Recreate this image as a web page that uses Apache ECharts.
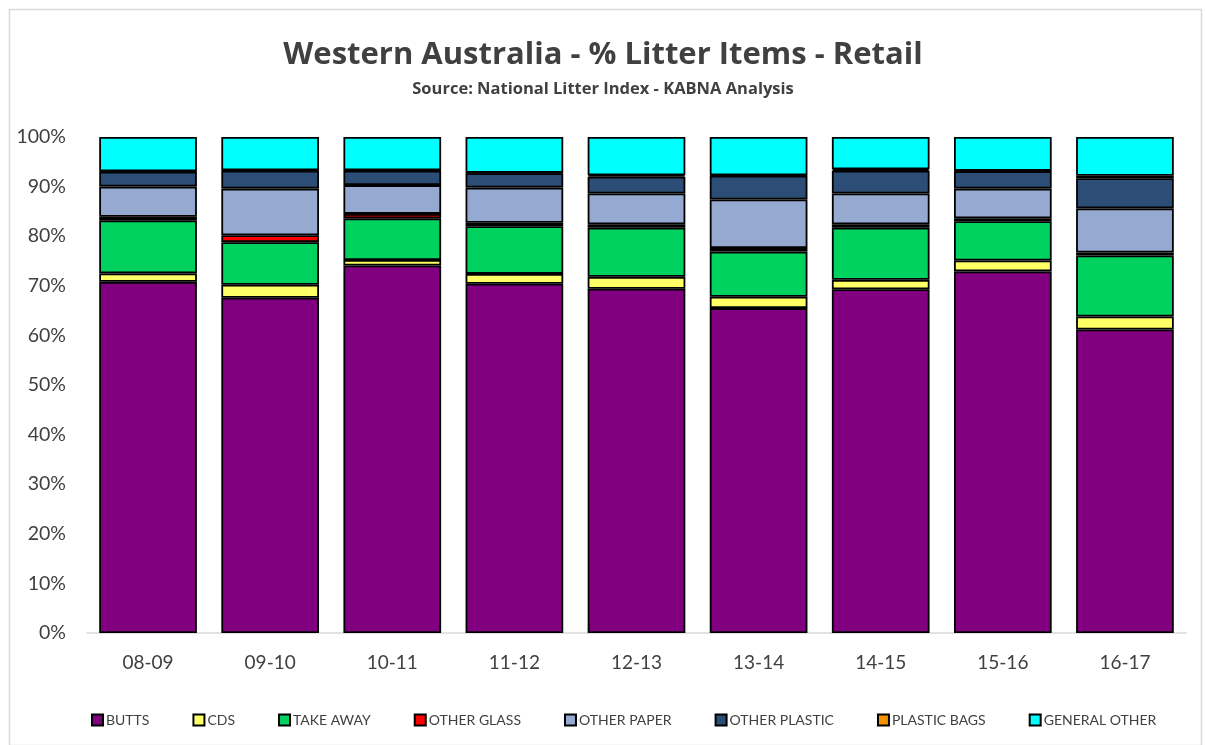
<!DOCTYPE html>
<html>
<head>
<meta charset="utf-8">
<script src="https://cdn.jsdelivr.net/npm/echarts@6/dist/echarts.min.js"></script>
<style>
html,body{margin:0;padding:0;background:#fff;}
#chart{width:1206px;height:745px;}
</style>
</head>
<body>
<div id="chart"></div>
<script>
const categories = ['08-09','09-10','10-11','11-12','12-13','13-14','14-15','15-16','16-17'];
const butts        = [70.8, 67.6, 74.1, 70.4, 69.4, 65.5, 69.3, 72.9, 61.2];
const cds          = [1.7, 2.6, 1.1, 2.0, 2.4, 2.3, 1.9, 2.2, 2.6];
const takeAway     = [10.7, 8.6, 8.4, 9.6, 9.9, 9.1, 10.5, 7.9, 12.3];
const otherGlass   = [0.7, 1.4, 0.9, 0.7, 0.7, 0.7, 0.7, 0.6, 0.6];
const otherPaper   = [6.1, 9.4, 5.8, 7.1, 6.2, 9.8, 6.2, 6.0, 8.9];
const otherPlastic = [3.0, 3.6, 2.9, 2.9, 3.4, 4.8, 4.6, 3.5, 6.1];
const plasticBags  = [0.1, 0.1, 0.1, 0.1, 0.3, 0.1, 0.3, 0.1, 0.5];
const generalOther = [6.9, 6.7, 6.7, 7.2, 7.7, 7.7, 6.5, 6.8, 7.8];
const yTicks = [0,10,20,30,40,50,60,70,80,90,100];

const seriesDefs = [
  ['BUTTS', butts, '#800080'],
  ['CDS', cds, '#FFFF66'],
  ['TAKE AWAY', takeAway, '#00D25F'],
  ['OTHER GLASS', otherGlass, '#FF0000'],
  ['OTHER PAPER', otherPaper, '#95A9D1'],
  ['OTHER PLASTIC', otherPlastic, '#2C4D75'],
  ['PLASTIC BAGS', plasticBags, '#F79100'],
  ['GENERAL OTHER', generalOther, '#00FFFF']
];

const chart = echarts.init(document.getElementById('chart'));
const font = 'Lato, "Open Sans", sans-serif';
const titleFont = '"Open Sans", Lato, sans-serif';
chart.setOption({
  animation: false,
  textStyle: {fontFamily: font},
  title: {
    text: 'Western Australia - % Litter Items - Retail',
    subtext: 'Source: National Litter Index - KABNA Analysis',
    left: 'center',
    top: 35,
    itemGap: 10,
    textStyle: {fontSize: 31, fontWeight: 'bold', color: '#404040', fontFamily: titleFont},
    subtextStyle: {fontSize: 16.5, fontWeight: 'bold', color: '#404040', fontFamily: titleFont}
  },
  legend: {
    bottom: 13,
    left: 86,
    itemWidth: 11,
    itemHeight: 11,
    itemGap: 43,
    icon: 'rect',
    textStyle: {fontSize: 14, color: '#404040', fontFamily: font, padding: [0,0,0,-2]},
    data: seriesDefs.map(s => s[0])
  },
  grid: {left: 87, right: 20, top: 137, bottom: 112, containLabel: false},
  xAxis: {
    type: 'category',
    data: categories,
    axisLine: {lineStyle: {color: '#D9D9D9', width: 1.5}},
    axisTick: {show: false},
    axisLabel: {fontSize: 19, color: '#404040', margin: 20, fontFamily: font}
  },
  yAxis: {
    type: 'value',
    min: 0, max: 100, interval: 10,
    axisLine: {show: false},
    axisTick: {show: false},
    splitLine: {show: false},
    axisLabel: {fontSize: 19.5, color: '#404040', margin: 21, fontFamily: font,
      formatter: v => yTicks.includes(v) ? v + '%' : ''}
  },
  graphic: [{
    type: 'rect', left: 7, top: 7,
    shape: {width: 1192, height: 736},
    style: {fill: 'none', stroke: '#D9D9D9', lineWidth: 1.5},
    silent: true
  }],
  series: seriesDefs.map(s => ({
    name: s[0],
    type: 'bar',
    stack: 'total',
    barCategoryGap: '20%',
    data: s[1],
    itemStyle: {color: s[2], borderColor: '#000', borderWidth: 1.8}
  }))
});
</script>
</body>
</html>
